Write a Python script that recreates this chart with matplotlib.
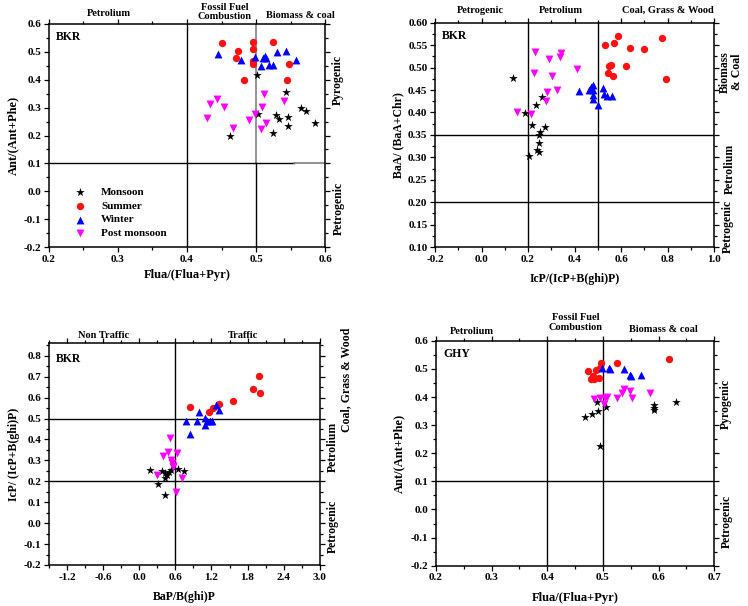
import numpy as np
import matplotlib
matplotlib.use('Agg')
import matplotlib.pyplot as plt
from matplotlib.ticker import MultipleLocator, FormatStrFormatter

plt.rcParams['font.family'] = ['Liberation Serif', 'DejaVu Serif']
plt.rcParams['font.weight'] = 'bold'
plt.rcParams['axes.labelweight'] = 'bold'

seasons = ["Monsoon", "Summer", "Winter", "Post monsoon"]
markers = ["*", "o", "^", "v"]
colors = ["black", "#ff1010", "#0000ff", "#ff00ff"]
sizes = [42, 28, 32, 32]

# ---- panel 1: BKR  Flua/(Flua+Pyr) vs Ant/(Ant+Phe)
bkr1_mon_x = [0.502, 0.543, 0.503, 0.529, 0.534, 0.547, 0.547, 0.565, 0.572, 0.586, 0.524, 0.462]
bkr1_mon_y = [0.417, 0.357, 0.276, 0.273, 0.258, 0.267, 0.233, 0.297, 0.287, 0.245, 0.209, 0.199]
bkr1_sum_x = [0.450, 0.495, 0.524, 0.474, 0.495, 0.471, 0.495, 0.495, 0.548, 0.483, 0.545]
bkr1_sum_y = [0.533, 0.536, 0.536, 0.503, 0.509, 0.479, 0.467, 0.455, 0.456, 0.399, 0.399]
bkr1_win_x = [0.445, 0.478, 0.499, 0.507, 0.510, 0.513, 0.515, 0.519, 0.525, 0.531, 0.543, 0.558]
bkr1_win_y = [0.492, 0.472, 0.483, 0.448, 0.477, 0.486, 0.478, 0.453, 0.453, 0.501, 0.504, 0.471]
bkr1_post_x = [0.444, 0.434, 0.454, 0.429, 0.466, 0.490, 0.498, 0.507, 0.514, 0.509, 0.511, 0.541]
bkr1_post_y = [0.330, 0.313, 0.303, 0.263, 0.227, 0.256, 0.276, 0.223, 0.245, 0.303, 0.348, 0.323]

# ---- panel 2: BKR  IcP/(IcP+B(ghi)P) vs BaA/(BaA+Chr)
bkr2_mon_x = [0.137, 0.187, 0.234, 0.259, 0.274, 0.216, 0.252, 0.249, 0.249, 0.240, 0.247, 0.206]
bkr2_mon_y = [0.476, 0.398, 0.416, 0.435, 0.367, 0.373, 0.357, 0.349, 0.331, 0.317, 0.312, 0.303]
bkr2_sum_x = [0.586, 0.531, 0.569, 0.639, 0.700, 0.775, 0.548, 0.556, 0.623, 0.545, 0.564, 0.794]
bkr2_sum_y = [0.570, 0.550, 0.555, 0.544, 0.541, 0.567, 0.504, 0.505, 0.504, 0.487, 0.482, 0.474]
bkr2_win_x = [0.421, 0.464, 0.470, 0.478, 0.481, 0.478, 0.481, 0.500, 0.524, 0.528, 0.538, 0.560]
bkr2_win_y = [0.448, 0.450, 0.457, 0.461, 0.450, 0.439, 0.430, 0.416, 0.454, 0.442, 0.436, 0.437]
bkr2_post_x = [0.232, 0.226, 0.292, 0.343, 0.338, 0.302, 0.409, 0.323, 0.282, 0.279, 0.154, 0.214]
bkr2_post_y = [0.534, 0.488, 0.520, 0.532, 0.523, 0.481, 0.497, 0.451, 0.445, 0.426, 0.401, 0.396]

# ---- panel 3: BKR  BaP/B(ghi)P vs IcP/(IcP+B(ghi)P)
bkr3_mon_x = [0.181, 0.375, 0.430, 0.501, 0.458, 0.430, 0.319, 0.650, 0.745, 0.430, 0.530]
bkr3_mon_y = [0.255, 0.250, 0.239, 0.246, 0.231, 0.215, 0.186, 0.259, 0.250, 0.135, 0.255]
bkr3_sum_x = [1.983, 1.894, 2.010, 1.562, 1.320, 1.231, 1.164, 0.844]
bkr3_sum_y = [0.704, 0.641, 0.624, 0.586, 0.570, 0.550, 0.531, 0.557]
bkr3_win_x = [0.998, 0.778, 0.960, 0.844, 1.098, 1.131, 1.176, 1.093, 1.275, 1.330, 1.204]
bkr3_win_y = [0.531, 0.486, 0.489, 0.427, 0.502, 0.486, 0.489, 0.467, 0.566, 0.542, 0.486]
bkr3_post_x = [0.513, 0.485, 0.624, 0.402, 0.524, 0.541, 0.568, 0.292, 0.707, 0.607, 0.557]
bkr3_post_y = [0.406, 0.342, 0.334, 0.322, 0.302, 0.287, 0.270, 0.231, 0.215, 0.151, 0.275]

# ---- panel 4: GHY  Flua/(Flua+Pyr) vs Ant/(Ant+Phe)
ghy_mon_x = [0.490, 0.505, 0.491, 0.480, 0.467, 0.591, 0.591, 0.591, 0.631, 0.494]
ghy_mon_y = [0.383, 0.363, 0.351, 0.339, 0.330, 0.371, 0.362, 0.353, 0.383, 0.226]
ghy_sum_x = [0.496, 0.525, 0.473, 0.488, 0.482, 0.479, 0.484, 0.492, 0.619, 0.495]
ghy_sum_y = [0.522, 0.522, 0.493, 0.496, 0.475, 0.466, 0.466, 0.468, 0.537, 0.502]
ghy_win_x = [0.498, 0.510, 0.513, 0.538, 0.548, 0.550, 0.568]
ghy_win_y = [0.504, 0.504, 0.499, 0.499, 0.478, 0.474, 0.480]
ghy_post_x = [0.484, 0.494, 0.504, 0.508, 0.525, 0.534, 0.538, 0.548, 0.552, 0.585, 0.501]
ghy_post_y = [0.393, 0.397, 0.395, 0.401, 0.395, 0.413, 0.428, 0.421, 0.395, 0.413, 0.377]

fig = plt.figure(figsize=(7.48, 6.06), dpi=100)
ax1 = fig.add_axes([0.0655, 0.5924, 0.369, 0.368])
ax2 = fig.add_axes([0.5816, 0.5924, 0.373, 0.370])
ax3 = fig.add_axes([0.0655, 0.0677, 0.362, 0.366])
ax4 = fig.add_axes([0.5829, 0.0665, 0.372, 0.371])

FS = 8


def style(ax, xlim, ylim, xmaj, xmin, ymaj, ymin, xfmt, yfmt):
    ax.set_xlim(*xlim)
    ax.set_ylim(*ylim)
    ax.xaxis.set_major_locator(MultipleLocator(xmaj))
    ax.xaxis.set_minor_locator(MultipleLocator(xmin))
    ax.yaxis.set_major_locator(MultipleLocator(ymaj))
    ax.yaxis.set_minor_locator(MultipleLocator(ymin))
    ax.xaxis.set_major_formatter(FormatStrFormatter(xfmt))
    ax.yaxis.set_major_formatter(FormatStrFormatter(yfmt))
    ax.tick_params(which='both', direction='out', top=True, right=True,
                   labelsize=FS, width=0.9, pad=2)
    ax.tick_params(which='major', length=3.5)
    ax.tick_params(which='minor', length=2)
    for s in ax.spines.values():
        s.set_linewidth(1.1)
    for lab in ax.get_xticklabels() + ax.get_yticklabels():
        lab.set_fontweight('bold')


def scatter_all(ax, xs, ys):
    for i in range(4):
        ax.scatter(xs[i], ys[i], marker=markers[i], c=colors[i], s=sizes[i],
                   linewidths=0, label=seasons[i], zorder=3)


def top_text(ax, x, y, s):
    ax.text(x, y, s, transform=ax.get_xaxis_transform(), ha='center', va='center',
            fontsize=7.5, fontweight='bold', linespacing=1.1)


def side_text(ax, x, y, s):
    ax.text(x, y, s, transform=ax.get_yaxis_transform(), ha='center', va='center',
            rotation=90, fontsize=8.5, fontweight='bold', linespacing=1.0)


# panel 1
style(ax1, (0.2, 0.6), (-0.2, 0.6), 0.1, 0.05, 0.1, 0.05, '%.1f', '%.1f')
ax1.axvline(0.4, color='black', lw=1)
ax1.plot([0.5, 0.5], [0.1, 0.6], color='#808080', lw=1.2)
ax1.plot([0.5, 0.5], [-0.2, 0.1], color='black', lw=1)
ax1.plot([0.2, 0.555], [0.1, 0.1], color='black', lw=1)
ax1.plot([0.555, 0.6], [0.1, 0.1], color='#808080', lw=1.2)
scatter_all(ax1, [bkr1_mon_x, bkr1_sum_x, bkr1_win_x, bkr1_post_x],
            [bkr1_mon_y, bkr1_sum_y, bkr1_win_y, bkr1_post_y])
ax1.text(0.025, 0.94, "BKR", transform=ax1.transAxes, fontsize=8.5, fontweight='bold', va='center')
ax1.set_xlabel("Flua/(Flua+Pyr)", fontsize=9, labelpad=4)
ax1.set_ylabel("Ant/(Ant+Phe)", fontsize=9, labelpad=3)
top_text(ax1, 0.287, 1.049, "Petrolium")
top_text(ax1, 0.455, 1.054, "Fossil Fuel\nCombustion")
top_text(ax1, 0.564, 1.037, "Biomass & coal")
side_text(ax1, 1.047, 0.40, "Pyrogenic")
side_text(ax1, 1.05, -0.06, "Petrogenic")
leg = ax1.legend(loc='lower left', bbox_to_anchor=(0.04, 0.0), frameon=False,
                 prop={'size': 8, 'weight': 'bold'}, handletextpad=0.9,
                 labelspacing=0.35, borderpad=0.3, markerscale=1.0)

# panel 2
style(ax2, (-0.2, 1.0), (0.10, 0.60), 0.2, 0.1, 0.05, 0.025, '%.1f', '%.2f')
ax2.axvline(0.2, color='black', lw=1)
ax2.axvline(0.5, color='black', lw=1)
ax2.axhline(0.35, color='black', lw=1)
ax2.axhline(0.20, color='black', lw=1)
scatter_all(ax2, [bkr2_mon_x, bkr2_sum_x, bkr2_win_x, bkr2_post_x],
            [bkr2_mon_y, bkr2_sum_y, bkr2_win_y, bkr2_post_y])
ax2.text(0.025, 0.94, "BKR", transform=ax2.transAxes, fontsize=8.5, fontweight='bold', va='center')
ax2.set_xlabel("IcP/(IcP+B(ghi)P)", fontsize=8.5, labelpad=7)
ax2.set_ylabel("BaA/ (BaA+Chr)", fontsize=8.5, labelpad=3)
top_text(ax2, -0.006, 1.055, "Petrogenic")
top_text(ax2, 0.34, 1.055, "Petrolium")
top_text(ax2, 0.80, 1.055, "Coal, Grass & Wood")
side_text(ax2, 1.06, 0.49, "Biomass\n& Coal")
side_text(ax2, 1.057, 0.273, "Petrolium")
side_text(ax2, 1.05, 0.145, "Petrogenic")

# panel 3
style(ax3, (-1.5, 3.0), (-0.2, 0.86), 0.6, 0.3, 0.1, 0.05, '%.1f', '%.1f')
ax3.axvline(0.6, color='black', lw=1)
ax3.axhline(0.5, color='black', lw=1)
ax3.axhline(0.2, color='black', lw=1)
scatter_all(ax3, [bkr3_mon_x, bkr3_sum_x, bkr3_win_x, bkr3_post_x],
            [bkr3_mon_y, bkr3_sum_y, bkr3_win_y, bkr3_post_y])
ax3.text(0.025, 0.93, "BKR", transform=ax3.transAxes, fontsize=8.5, fontweight='bold', va='center')
ax3.set_xlabel("BaP/B(ghi)P", fontsize=8.5, labelpad=7)
ax3.set_ylabel("IcP/ (IcP+B(ghi)P)", fontsize=8.5, labelpad=3)
top_text(ax3, -0.59, 1.036, "Non Traffic")
top_text(ax3, 1.72, 1.036, "Traffic")
side_text(ax3, 1.098, 0.685, "Coal, Grass & Wood")
side_text(ax3, 1.05, 0.366, "Petrolium")
side_text(ax3, 1.05, -0.017, "Petrogenic")

# panel 4
style(ax4, (0.2, 0.7), (-0.2, 0.6), 0.1, 0.05, 0.1, 0.05, '%.1f', '%.1f')
ax4.axvline(0.4, color='black', lw=1)
ax4.axvline(0.5, color='black', lw=1)
ax4.axhline(0.1, color='black', lw=1)
scatter_all(ax4, [ghy_mon_x, ghy_sum_x, ghy_win_x, ghy_post_x],
            [ghy_mon_y, ghy_sum_y, ghy_win_y, ghy_post_y])
ax4.text(0.025, 0.94, "GHY", transform=ax4.transAxes, fontsize=8.5, fontweight='bold', va='center')
ax4.set_xlabel("Flua/(Flua+Pyr)", fontsize=9, labelpad=7)
ax4.set_ylabel("Ant/(Ant+Phe)", fontsize=9, labelpad=4)
top_text(ax4, 0.264, 1.04, "Petrolium")
top_text(ax4, 0.451, 1.081, "Fossil Fuel\nCombustion")
top_text(ax4, 0.608, 1.051, "Biomass & coal")
side_text(ax4, 1.04, 0.377, "Pyrogenic")
side_text(ax4, 1.045, -0.043, "Petrogenic")

fig.savefig("out.png", dpi=100)
